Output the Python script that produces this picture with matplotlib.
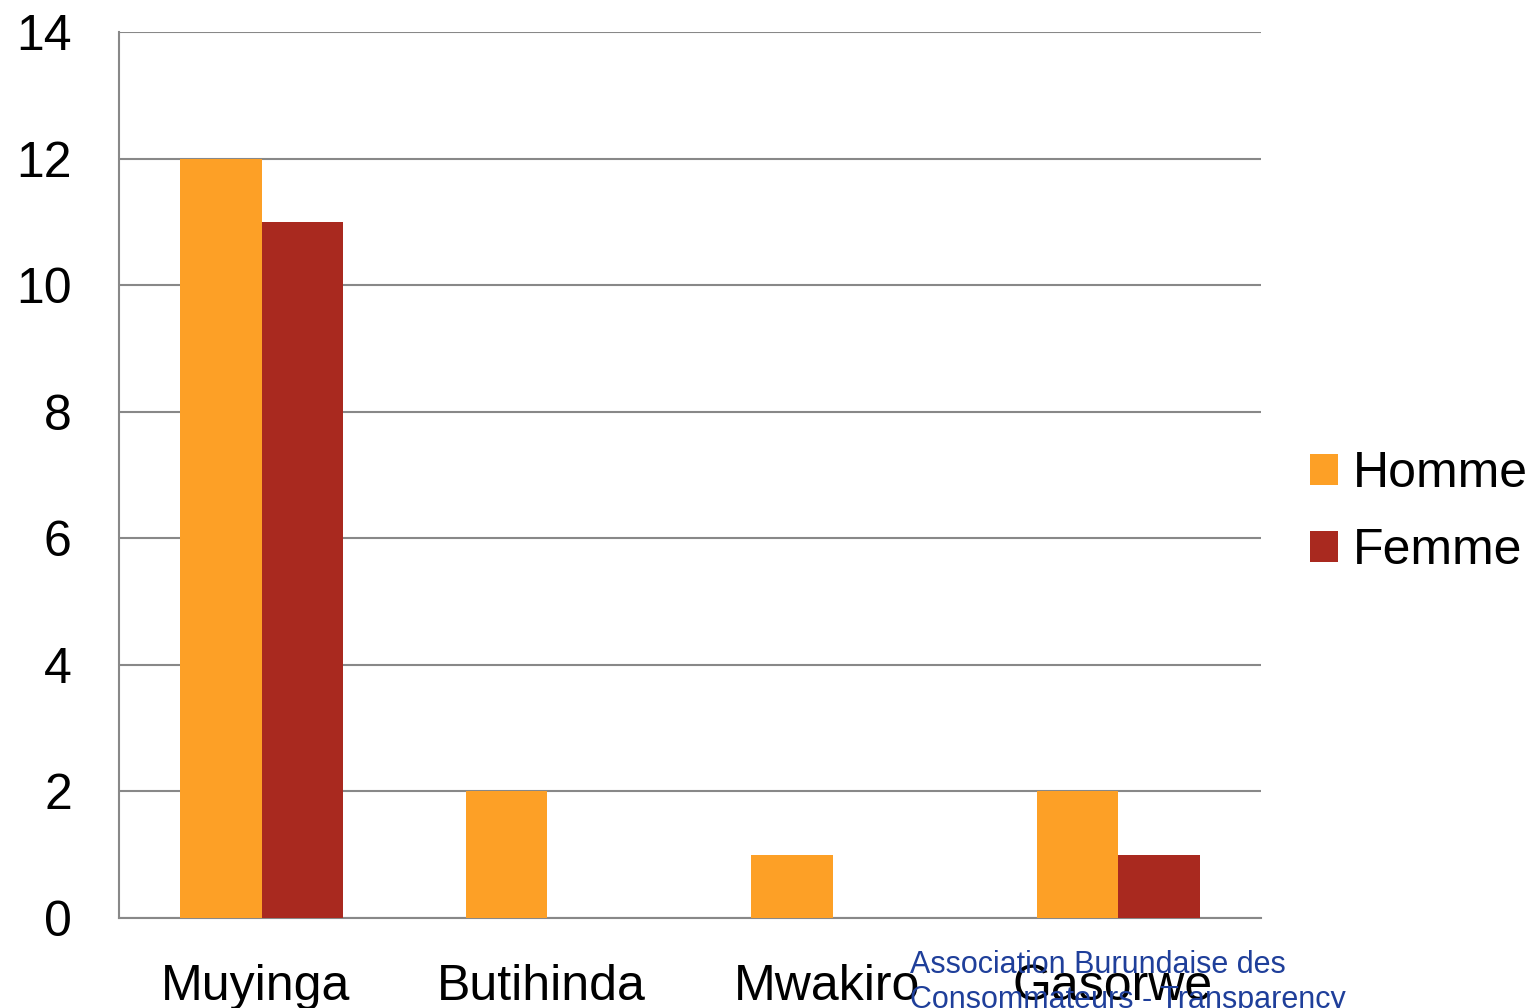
import matplotlib.pyplot as plt
import matplotlib.transforms as mtransforms
import numpy as np

communes = ["Muyinga", "Butihinda", "Mwakiro", "Gasorwe"]
homme = [12, 2, 1, 2]
femme = [11, 0, 0, 1]

plt.rcParams['font.family'] = ['Liberation Sans', 'DejaVu Sans']

fig = plt.figure(figsize=(15.3, 10.08), dpi=100)
ax = fig.add_axes([119/1530, 1-918/1008, (1261-119)/1530, (918-32)/1008])

x = np.arange(len(communes))
w = 0.2855
ax.bar(x - w/2, homme, w, color='#FDA026', label='Homme', zorder=3)
ax.bar(x + w/2, femme, w, color='#A9291F', label='Femme', zorder=3)

ax.set_xlim(-0.5, 3.5)
ax.set_ylim(0, 14)
ax.set_yticks(range(0, 15, 2))
ax.set_xticks(x)
ax.set_xticklabels(communes)
ax.tick_params(axis='both', length=0, labelsize=36)
ax.tick_params(axis='y', pad=34)
ax.tick_params(axis='x', pad=33)
shift = mtransforms.ScaledTranslation(-6/100, 0, fig.dpi_scale_trans)
for lbl in ax.get_xticklabels():
    lbl.set_transform(lbl.get_transform() + shift)
ax.yaxis.grid(True, color='#888888', linewidth=1.5, zorder=0)
for s in ['top', 'right']:
    ax.spines[s].set_visible(False)
for s in ['left', 'bottom']:
    ax.spines[s].set_color('#888888')
    ax.spines[s].set_linewidth(1.5)

ax.legend(loc='center left', bbox_to_anchor=(1.025, 0.4575), frameon=False,
          fontsize=36, handlelength=0.56, handleheight=0.56, handletextpad=0.3,
          labelspacing=0.62, borderaxespad=0)

fig.text(910/1530, 1-950/1008, "Association Burundaise des\nConsommateurs - Transparency",
         color='#1F3F9A', fontsize=22, va='top', ha='left', linespacing=1.2)

fig.savefig('out.png', dpi=100)
